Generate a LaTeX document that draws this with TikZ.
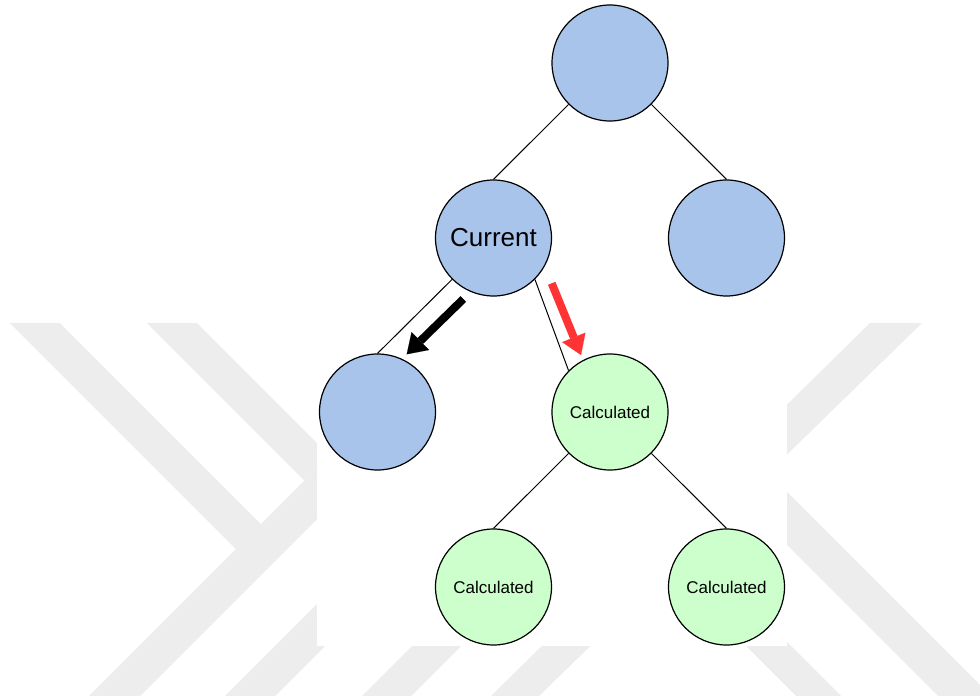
\documentclass[tikz,border=0pt]{standalone}
\usepackage{fontspec}
\setmainfont{Liberation Sans}
\usetikzlibrary{arrows.meta}
\definecolor{nodeblue}{HTML}{A9C4EB}
\definecolor{nodegreen}{HTML}{CCFFCC}
\definecolor{arrowred}{HTML}{FF3333}
\definecolor{wmgray}{RGB}{237,237,237}
\begin{document}
\begin{tikzpicture}[x=1pt,y=-1pt,
  tnode/.style={circle,draw=black,line width=1.2pt,minimum size=116pt,inner sep=0pt},
  bluenode/.style={tnode,fill=nodeblue,font=\fontsize{26}{30}\selectfont},
  greennode/.style={tnode,fill=nodegreen,font=\fontsize{17}{20}\selectfont},
  edge/.style={draw=black,line width=1pt},
  bigarrow/.style={line width=8pt,-{Triangle[width=25pt,length=19pt,line width=0.1pt]}},
  wm/.style={fill=wmgray,draw=none}]
\useasboundingbox (0,0) rectangle (980,696);
\fill[white] (0,0) rectangle (980,696);
% watermark
\begin{scope}
\clip (0,323) rectangle (980,696);
\fill[wm] (10,323) -- (60,323) -- (286.5,549.5) -- (236,549) -- cycle;
\fill[wm] (147,323) -- (197,323) -- (329.5,455.5) -- (304.5,480.5) -- cycle;
\fill[wm] (89,696) -- (140,696) -- (513,323) -- (462,323) -- cycle;
\fill[wm] (225,696) -- (275,696) -- (648,323) -- (598,323) -- cycle;
\fill[wm] (362,696) -- (411,696) -- (784,323) -- (735,323) -- cycle;
\fill[wm] (491,696) -- (539,696) -- (922,323) -- (870,323) -- cycle;
\fill[wm] (796,696) -- (841,696) -- (468,323) -- (423,323) -- cycle;
\fill[wm] (938,696) -- (991,696) -- (618,323) -- (565,323) -- cycle;
\end{scope}
\fill[white] (317,0) rectangle (787,646);
% nodes
\node[bluenode] (root) at (610,63) {};
\node[bluenode] (cur) at (493.5,238) {Current};
\node[bluenode] (rc) at (726.5,238) {};
\node[bluenode] (lg) at (377.5,412) {};
\node[greennode] (calc) at (610,412) {Calculated};
\node[greennode] (cl) at (493.5,587) {Calculated};
\node[greennode] (cr) at (726.5,587) {Calculated};
% edges
\draw[edge] (root.225) -- (cur.90);
\draw[edge] (root.-45) -- (rc.90);
\draw[edge] (cur.225) -- (lg.90);
\draw[edge] (cur.-45) -- (calc.135);
\draw[edge] (calc.225) -- (cl.90);
\draw[edge] (calc.-45) -- (cr.90);
% arrows
\coordinate (bkS) at (463.3,299);
\coordinate (bkE) at (406.7,354.3);
\coordinate (rdS) at (551.7,283.3);
\coordinate (rdE) at (581,355);
\draw[bigarrow,draw=black,fill=black] (bkS) -- (bkE);
\draw[bigarrow,draw=arrowred,fill=arrowred] (rdS) -- (rdE);
\end{tikzpicture}
\end{document}
